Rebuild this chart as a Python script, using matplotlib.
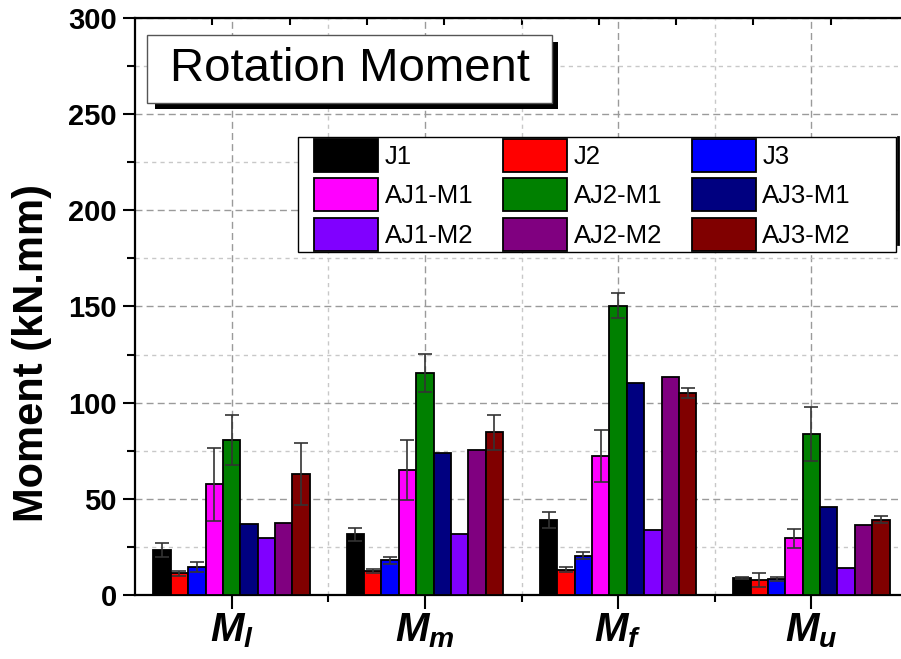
import matplotlib
matplotlib.use('Agg')
import matplotlib.pyplot as plt
import numpy as np
from matplotlib.patches import Rectangle
from matplotlib.lines import Line2D

plt.rcParams['font.family'] = ['Liberation Sans', 'DejaVu Sans']
plt.rcParams['mathtext.fontset'] = 'custom'
plt.rcParams['mathtext.bf'] = 'Liberation Sans:bold'
plt.rcParams['mathtext.it'] = 'Liberation Sans:italic'
plt.rcParams['mathtext.bfit'] = 'Liberation Sans:bold:italic'
plt.rcParams['mathtext.rm'] = 'Liberation Sans'

# data
groups = [r'$\mathbfit{M}_\mathbfit{l}$', r'$\mathbfit{M}_\mathbfit{m}$',
          r'$\mathbfit{M}_\mathbfit{f}$', r'$\mathbfit{M}_\mathbfit{u}$']
series = ['J1', 'J2', 'J3', 'AJ1-M1', 'AJ2-M1', 'AJ3-M1', 'AJ1-M2', 'AJ2-M2', 'AJ3-M2']
colors = ['#000000', '#ff0000', '#0000ff', '#ff00ff', '#008000', '#000080',
          '#8000ff', '#800080', '#800000']

J1 = [23.5, 31.5, 38.8, 8.8]
J2 = [11.2, 12.6, 13.1, 7.8]
J3 = [14.4, 18.0, 20.4, 8.3]
AJ1_M1 = [57.5, 65.0, 72.5, 29.5]
AJ2_M1 = [80.5, 115.5, 150.5, 83.5]
AJ3_M1 = [37.0, 73.8, 110.0, 45.8]
AJ1_M2 = [29.5, 31.8, 33.8, 13.8]
AJ2_M2 = [37.5, 75.2, 113.5, 36.5]
AJ3_M2 = [63.0, 84.5, 105.0, 39.2]

J1_err = [3.5, 3.5, 4.2, 0.5]
J2_err = [1.2, 1.1, 1.3, 3.5]
J3_err = [2.6, 2.0, 1.8, 0.9]
AJ1_M1_err = [19.0, 15.8, 13.5, 5.0]
AJ2_M1_err = [13.0, 10.0, 6.5, 14.0]
AJ3_M1_err = [0, 0, 0, 0]
AJ1_M2_err = [0, 0, 0, 0]
AJ2_M2_err = [0, 0, 0, 0]
AJ3_M2_err = [16.0, 9.0, 2.5, 2.0]

values = [J1, J2, J3, AJ1_M1, AJ2_M1, AJ3_M1, AJ1_M2, AJ2_M2, AJ3_M2]
errors = [J1_err, J2_err, J3_err, AJ1_M1_err, AJ2_M1_err, AJ3_M1_err,
          AJ1_M2_err, AJ2_M2_err, AJ3_M2_err]

W, H = 901, 659
fig = plt.figure(figsize=(W / 100, H / 100), dpi=100)


def fx(px):
    return px / W


def fy(py):
    return 1 - py / H


ax = fig.add_axes([fx(135), fy(595), fx(908) - fx(135), fy(18) - fy(595)])

x = np.arange(1, len(groups) + 1)
bw = 0.09
handles = []
for i, (name, vals, errs, c) in enumerate(zip(series, values, errors, colors)):
    pos = x + (i - 4) * bw
    b = ax.bar(pos, vals, width=bw, color=c, edgecolor='black', linewidth=1.3,
               label=name, zorder=3)
    handles.append(b)
    errs = np.array(errs, dtype=float)
    mask = errs > 0
    if mask.any():
        ax.errorbar(pos[mask], np.array(vals)[mask], yerr=errs[mask], fmt='none',
                    ecolor='#333333', elinewidth=1.2, capsize=5, capthick=1.2,
                    zorder=4)

ax.set_xlim(0.5, 4.5)
ax.set_ylim(0, 300)
ax.set_xticks(x)
ax.set_xticklabels(groups, fontsize=29)
ax.set_xticks(x[:-1] + 0.5, minor=True)
ax.set_yticks(np.arange(0, 301, 50))
ax.set_yticks(np.arange(25, 300, 50), minor=True)
for lab in ax.get_yticklabels():
    lab.set_fontweight('bold')
ax.tick_params(axis='y', which='major', labelsize=21, length=9, width=1.5, direction='out', pad=4)
ax.tick_params(axis='y', which='minor', length=6, width=1.5, direction='out')
ax.tick_params(axis='x', which='major', length=10, width=1.5, direction='out', pad=2)
ax.tick_params(axis='x', which='minor', length=5, width=1.5, direction='out')
ax.set_ylabel('Moment (kN.mm)', fontsize=30, fontweight='bold')
ax.yaxis.set_label_coords(-0.107, 0.42)

ax.grid(which='major', axis='both', color='#9a9a9a', linestyle=(0, (5, 3)), linewidth=1.0, zorder=0)
ax.grid(which='minor', axis='both', color='#c8c8c8', linestyle=(0, (3, 3)), linewidth=1.0, zorder=0)
ax.set_axisbelow(True)
for s in ax.spines.values():
    s.set_linewidth(1.6)

top = ax.secondary_xaxis('top')
top.set_xticks(np.arange(0.9, 4.2, 0.4))
top.set_xticklabels([])
top.tick_params(direction='in', length=5, width=1.5)

# legend in row order, frame drawn separately
frame = Rectangle((fx(298), fy(252)), fx(896) - fx(298), fy(137) - fy(252),
                  transform=fig.transFigure, facecolor='white', edgecolor='black',
                  lw=1.0, zorder=5, clip_on=False)
ax.add_patch(frame)
order = [0, 3, 6, 1, 4, 7, 2, 5, 8]
leg = ax.legend([handles[k] for k in order], [series[k] for k in order],
                ncol=3, fontsize=18.5, frameon=False,
                loc='upper left', bbox_to_anchor=(fx(314), fy(139)),
                bbox_transform=fig.transFigure, borderaxespad=0,
                handlelength=2.5, handleheight=1.6, handletextpad=0.25,
                columnspacing=1.15, labelspacing=0.25, borderpad=0)
leg.set_zorder(6)
fig.add_artist(Line2D([fx(898), fx(898)], [fy(137), fy(244)], color='black', lw=2, zorder=6))

# title box with shadow
fig.add_artist(Rectangle((fx(155), fy(109)), fx(558) - fx(155), fy(42) - fy(109),
                         facecolor='black', edgecolor='none', zorder=7))
fig.add_artist(Rectangle((fx(147), fy(103)), fx(552) - fx(147), fy(35) - fy(103),
                         facecolor='white', edgecolor='#555555', lw=1.0, zorder=8))
fig.text(fx(350), fy(69), 'Rotation Moment', fontsize=34, ha='center', va='center', zorder=9)

fig.savefig('out.png', dpi=100)
